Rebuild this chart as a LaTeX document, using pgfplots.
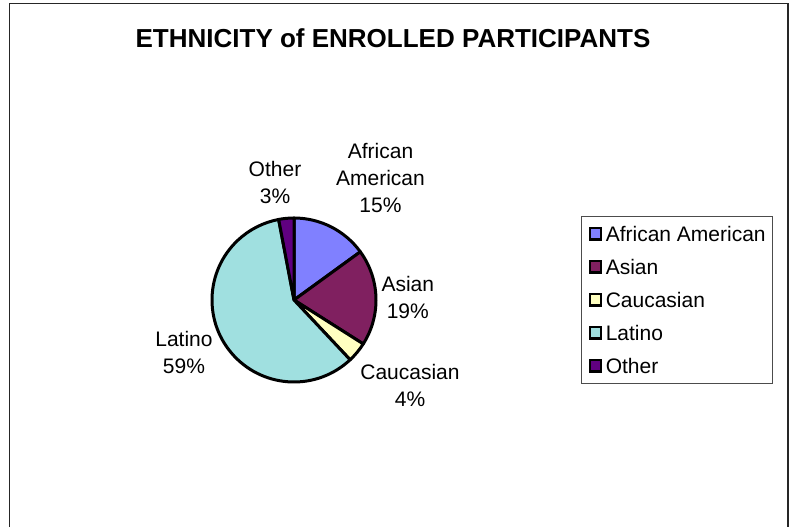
\documentclass[border=0pt]{standalone}
\usepackage{pgfplots}
\usepackage{pgfplotstable}
\pgfplotsset{compat=1.18}
\usepackage{fontspec}
\setmainfont{Liberation Sans}

\definecolor{cAA}{HTML}{8080FF}
\definecolor{cAs}{HTML}{802060}
\definecolor{cCa}{HTML}{FFFFC0}
\definecolor{cLa}{HTML}{A0E0E0}
\definecolor{cOt}{HTML}{600080}

\pgfplotstableread[col sep=comma]{
name,value,color
African American,15,cAA
Asian,19,cAs
Caucasian,4,cCa
Latino,59,cLa
Other,3,cOt
}\piedata

\newcommand\lbl{\fontsize{21}{27}\selectfont}

\begin{document}
\begin{tikzpicture}
% cumulative angles, clockwise from 12 o'clock
\def\cum{90}
\pgfplotsforeachungrouped \i in {0,...,4}{%
  \pgfplotstablegetelem{\i}{value}\of\piedata
  \pgfmathsetmacro\stopang{\cum-3.6*\pgfplotsretval}%
  \expandafter\xdef\csname pieS\i\endcsname{\cum}%
  \expandafter\xdef\csname pieE\i\endcsname{\stopang}%
  \pgfplotstablegetelem{\i}{color}\of\piedata
  \colorlet{pie\i}{\pgfplotsretval}%
  \xdef\cum{\stopang}%
}
\begin{axis}[
  name=ax,
  width=794pt, height=527pt, scale only axis,
  xmin=0, xmax=794, ymin=0, ymax=527,
  enlargelimits=false,
  hide axis, clip=false,
  legend image code/.code={\draw[#1, line width=2.4pt] (0.4pt,-5.6pt) rectangle (11.6pt,5.6pt);},
  legend style={at={(axis cs:581,311.3)}, anchor=north west,
    draw=black!70, line width=1.3pt, fill=white,
    font=\fontsize{21}{25}\selectfont,
    inner xsep=7pt, inner ysep=10pt, row sep=18pt, column sep=3.5pt,
    nodes={inner sep=0pt, text height=15pt, text depth=0pt},
    column 2/.style={nodes={text width=171pt, align=left}}},
  legend cell align=left,
]
% frame
\draw[black!85, line width=1.8pt] (axis cs:9.5,0) -- (axis cs:9.5,523.5) -- (axis cs:788,523.5) -- (axis cs:788,0);
% pie wedges from table values
\pgfplotsinvokeforeach{0,...,4}{%
  \edef\temp{\noexpand\filldraw[fill=pie#1, draw=black, line width=3pt, line join=round]
    (axis cs:294,227) -- ++(\csname pieS#1\endcsname:82pt)
    arc[start angle=\csname pieS#1\endcsname, end angle=\csname pieE#1\endcsname, radius=82pt] -- cycle;}%
  \temp
}
\addlegendimage{fill=pie0, draw=black}\addlegendentry{African American}
\addlegendimage{fill=pie1, draw=black}\addlegendentry{Asian}
\addlegendimage{fill=pie2, draw=black}\addlegendentry{Caucasian}
\addlegendimage{fill=pie3, draw=black}\addlegendentry{Latino}
\addlegendimage{fill=pie4, draw=black}\addlegendentry{Other}
% title
\node[anchor=base, font=\bfseries\fontsize{26}{30}\selectfont] at (axis cs:393,479) {ETHNICITY of ENROLLED PARTICIPANTS};
% data labels
\node[align=center, font=\lbl] at (axis cs:380.5,348.6) {African\\American\\15\%};
\node[align=center, font=\lbl] at (axis cs:275,344.4) {Other\\3\%};
\node[align=center, font=\lbl] at (axis cs:407.8,229.5) {Asian\\19\%};
\node[align=center, font=\lbl] at (axis cs:410,141.5) {Caucasian\\4\%};
\node[align=center, font=\lbl] at (axis cs:184,174.2) {Latino\\59\%};
\end{axis}
\pgfresetboundingbox
\path[use as bounding box] (ax.south west) rectangle (ax.north east);
\end{tikzpicture}
\end{document}
